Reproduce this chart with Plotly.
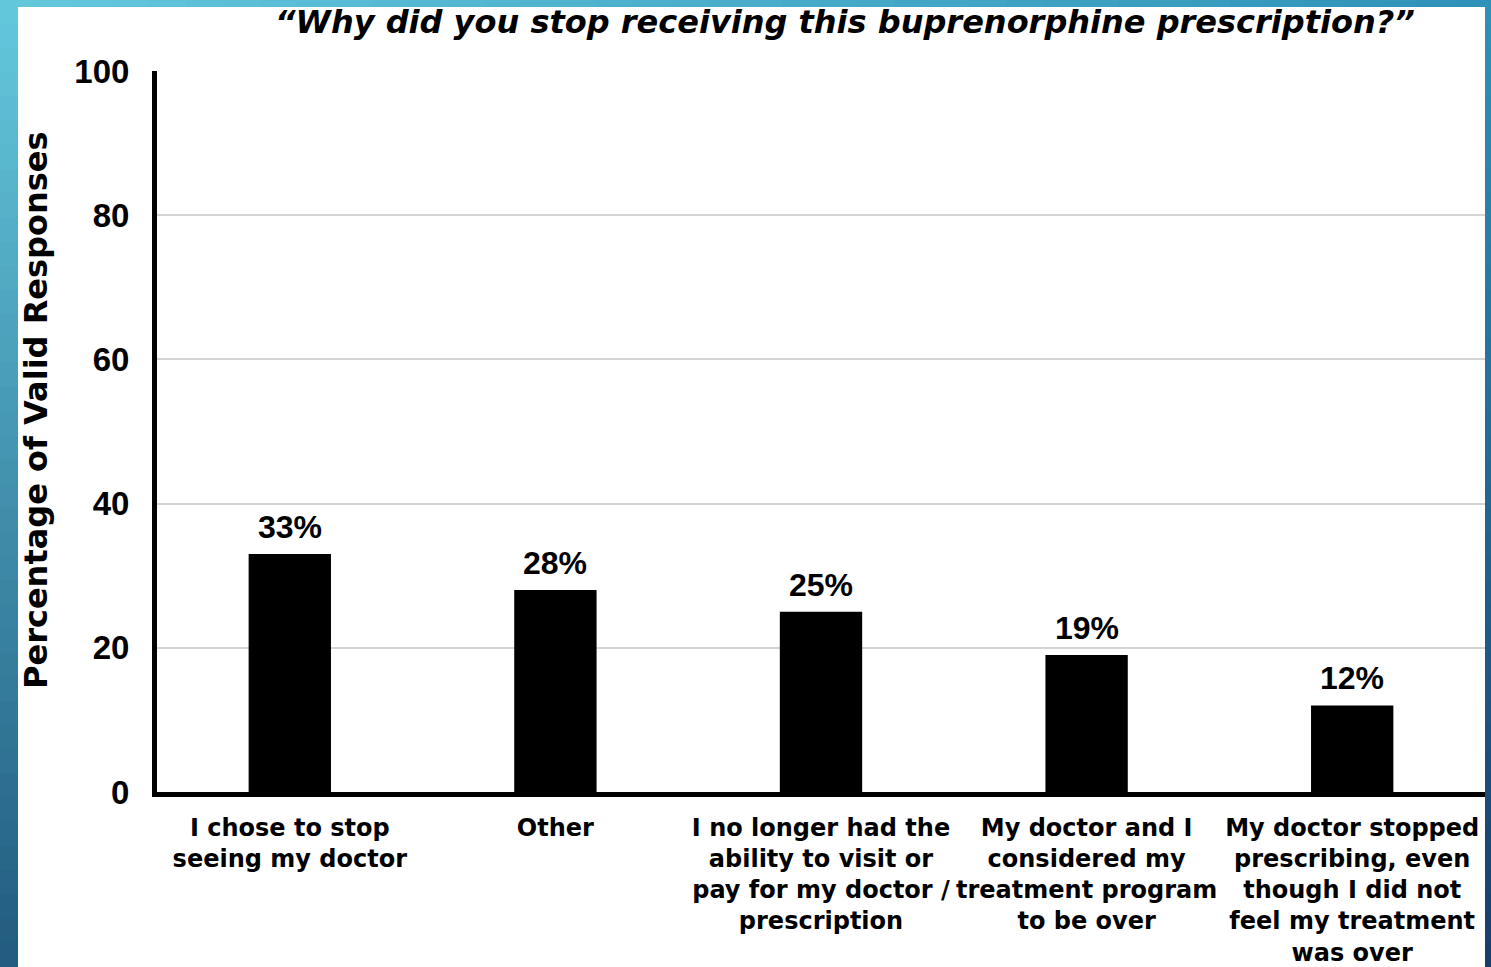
import plotly.graph_objects as go

categories = [
    "I chose to stop<br>seeing my doctor",
    "Other",
    "I no longer had the<br>ability to visit or<br>pay for my doctor /<br>prescription",
    "My doctor and I<br>considered my<br>treatment program<br>to be over",
    "My doctor stopped<br>prescribing, even<br>though I did not<br>feel my treatment<br>was over",
]
values = [33, 28, 25, 19, 12]
value_labels = ["33%", "28%", "25%", "19%", "12%"]
y_ticks = [0, 20, 40, 60, 80, 100]

W, H = 1491, 967
L, R, T, B = 157, 6, 71, 175
pw, ph = W - L - R, H - T - B

def px_x(p):
    return (p - L) / pw

def px_y(p):
    return (H - B - p) / ph

FONT = "Liberation Sans, Arial, sans-serif"
WIDE = "DejaVu Sans, Liberation Sans, sans-serif"

fig = go.Figure()
fig.add_trace(go.Bar(
    x=categories, y=values, marker=dict(color="black", line=dict(width=0)),
    width=0.31, showlegend=False, hoverinfo="skip",
))

for c, v, t in zip(categories, values, value_labels):
    fig.add_annotation(x=c, y=v, text=t, showarrow=False, yanchor="bottom", yshift=7,
                       font=dict(family=FONT, size=32, color="black", weight="bold"))

def lerp(c1, c2, f):
    return "rgb(%d,%d,%d)" % tuple(round(a + (b - a) * f) for a, b in zip(c1, c2))

shapes = []
N = 40
lt, lb = (99, 199, 220), (34, 92, 128)
for i in range(N):
    y0 = H * i / N
    y1 = H * (i + 1) / N + 1
    shapes.append(dict(type="rect", xref="paper", yref="paper", x0=px_x(0), x1=px_x(18),
                       y0=px_y(y1), y1=px_y(y0), fillcolor=lerp(lt, lb, i / (N - 1)),
                       line=dict(width=0), layer="above"))
rt, rb = (46, 146, 184), (24, 62, 108)
for i in range(N):
    y0 = H * i / N
    y1 = H * (i + 1) / N + 1
    shapes.append(dict(type="rect", xref="paper", yref="paper", x0=px_x(1485), x1=px_x(W),
                       y0=px_y(y1), y1=px_y(y0), fillcolor=lerp(rt, rb, i / (N - 1)),
                       line=dict(width=0), layer="above"))
for i in range(N):
    x0 = W * i / N
    x1 = W * (i + 1) / N + 1
    shapes.append(dict(type="rect", xref="paper", yref="paper", x0=px_x(x0), x1=px_x(x1),
                       y0=px_y(7), y1=px_y(0), fillcolor=lerp(lt, rt, i / (N - 1)),
                       line=dict(width=0), layer="above"))

fig.add_annotation(xref="paper", yref="paper", x=px_x(845), y=px_y(22),
                   text="\u201cWhy did you stop receiving this buprenorphine prescription?\u201d",
                   showarrow=False, xanchor="center", yanchor="middle",
                   font=dict(family=WIDE, size=32, color="black", weight="bold", style="italic"))
fig.add_annotation(xref="paper", yref="paper", x=px_x(36), y=px_y(410),
                   text="Percentage of Valid Responses", textangle=-90,
                   showarrow=False, xanchor="center", yanchor="middle",
                   font=dict(family=WIDE, size=32, color="black", weight="bold"))

fig.update_layout(
    width=W, height=H, margin=dict(l=L, r=R, t=T, b=B, autoexpand=False),
    paper_bgcolor="white", plot_bgcolor="white", shapes=shapes, bargap=0.69,
    font=dict(family=FONT, color="black"),
)
fig.update_xaxes(showline=True, linecolor="black", linewidth=5, showgrid=False,
                 ticks="", ticklabelstandoff=10, automargin=False,
                 tickfont=dict(family=WIDE, size=24, color="black", weight="bold"))
fig.update_yaxes(range=[0, 100], tickvals=y_ticks, showline=True, linecolor="black", linewidth=5,
                 showgrid=True, gridcolor="#d4d4d4", gridwidth=2, zeroline=False,
                 ticks="", ticklabelstandoff=16, automargin=False,
                 tickfont=dict(family=FONT, size=33, color="black", weight="bold"))

fig.write_html("out.html")
